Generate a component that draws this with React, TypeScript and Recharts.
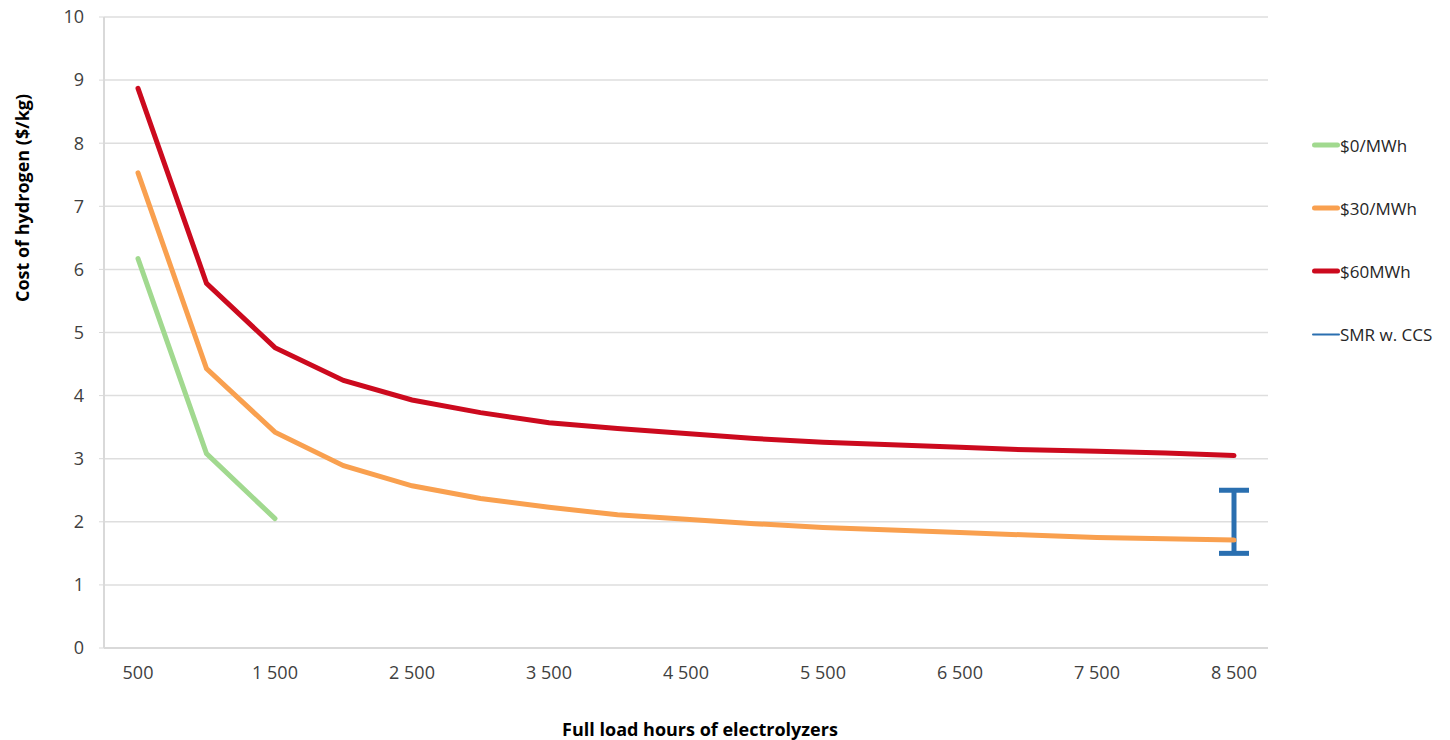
import React from "react";
import { LineChart, Line, XAxis, YAxis, CartesianGrid, ErrorBar } from "recharts";

// ── Data ────────────────────────────────────────────────────────────
const hours = [500, 1000, 1500, 2000, 2500, 3000, 3500, 4000, 4500, 5000, 5500, 6000, 6500, 7000, 7500, 8000, 8500];
const cost0 = [6.17, 3.08, 2.05];
const cost30 = [7.53, 4.43, 3.42, 2.89, 2.57, 2.37, 2.23, 2.11, 2.04, 1.97, 1.91, 1.87, 1.83, 1.79, 1.75, 1.73, 1.71];
const cost60 = [8.87, 5.78, 4.76, 4.24, 3.93, 3.73, 3.57, 3.48, 3.4, 3.32, 3.26, 3.22, 3.18, 3.14, 3.12, 3.09, 3.05];
const smrLow = 1.5;
const smrHigh = 2.5;
const yTicks = [0, 1, 2, 3, 4, 5, 6, 7, 8, 9, 10];

const GREEN = "#a1d98f";
const ORANGE = "#f9a04f";
const RED = "#cc0a1e";
const BLUE = "#2a6fb0";
const FONT = "'Open Sans', sans-serif";

const data = hours.map((h, i) => ({
  hours: h,
  c0: cost0[i],
  c30: cost30[i],
  c60: cost60[i],
  smr: i === hours.length - 1 ? (smrLow + smrHigh) / 2 : undefined,
  smrErr: i === hours.length - 1 ? (smrHigh - smrLow) / 2 : undefined,
}));

const legendItems = [
  { label: "$0/MWh", color: GREEN, width: 5 },
  { label: "$30/MWh", color: ORANGE, width: 5 },
  { label: "$60MWh", color: RED, width: 5 },
  { label: "SMR w. CCS", color: BLUE, width: 2 },
];

const fmt = (v: number) => (v >= 1000 ? `${Math.floor(v / 1000)} ${String(v % 1000).padStart(3, "0")}` : String(v));

export default function App() {
  return (
    <div style={{ position: "absolute", left: 0, top: 0, width: 1450, height: 740, background: "#fff", fontFamily: FONT }}>
      <LineChart width={1450} height={740} data={data} margin={{ top: 17, right: 182, bottom: 62, left: 0 }}>
        <CartesianGrid vertical={false} stroke="#dedede" strokeWidth={1.5} />
        <XAxis
          dataKey="hours"
          interval={1}
          height={30}
          padding={{ left: 34, right: 34 }}
          tickFormatter={fmt}
          axisLine={{ stroke: "#d9d9d9", strokeWidth: 2 }}
          tickLine={false}
          tick={{ fill: "#404040", fontSize: 18, fontFamily: FONT }}
          tickMargin={12}
        />
        <YAxis
          width={104}
          domain={[0, 10]}
          ticks={yTicks}
          interval={0}
          axisLine={{ stroke: "#d9d9d9", strokeWidth: 2 }}
          tickLine={{ stroke: "#d9d9d9" }}
          tickSize={5}
          tickMargin={15}
          tick={{ fill: "#404040", fontSize: 18, fontFamily: FONT }}
        />
        <Line dataKey="smr" stroke="none" dot={false} isAnimationActive={false}>
          <ErrorBar dataKey="smrErr" width={15} stroke={BLUE} strokeWidth={5} direction="y" />
        </Line>
        <Line dataKey="c0" stroke={GREEN} strokeWidth={5} strokeLinecap="round" dot={false} isAnimationActive={false} />
        <Line dataKey="c30" stroke={ORANGE} strokeWidth={5} strokeLinecap="round" dot={false} isAnimationActive={false} />
        <Line dataKey="c60" stroke={RED} strokeWidth={5} strokeLinecap="round" dot={false} isAnimationActive={false} />
      </LineChart>

      {/* axis titles */}
      <div
        style={{
          position: "absolute",
          left: 22,
          top: 198,
          transform: "translate(-50%, -50%) rotate(-90deg)",
          whiteSpace: "nowrap",
          fontWeight: 700,
          fontSize: 18,
          color: "#000",
        }}
      >
        Cost of hydrogen ($/kg)
      </div>
      <div
        style={{
          position: "absolute",
          left: 700,
          top: 729,
          transform: "translate(-50%, -50%)",
          whiteSpace: "nowrap",
          fontWeight: 700,
          fontSize: 18,
          color: "#000",
        }}
      >
        Full load hours of electrolyzers
      </div>

      {/* legend */}
      {legendItems.map((it, i) => (
        <div
          key={it.label}
          style={{ position: "absolute", left: 1312, top: 145 + i * 63, transform: "translateY(-50%)", display: "flex", alignItems: "center" }}
        >
          <div style={{ width: 28, height: it.width, background: it.color, borderRadius: 3 }} />
          <span style={{ fontSize: 17, color: "#262626", whiteSpace: "nowrap" }}>{it.label}</span>
        </div>
      ))}
    </div>
  );
}
